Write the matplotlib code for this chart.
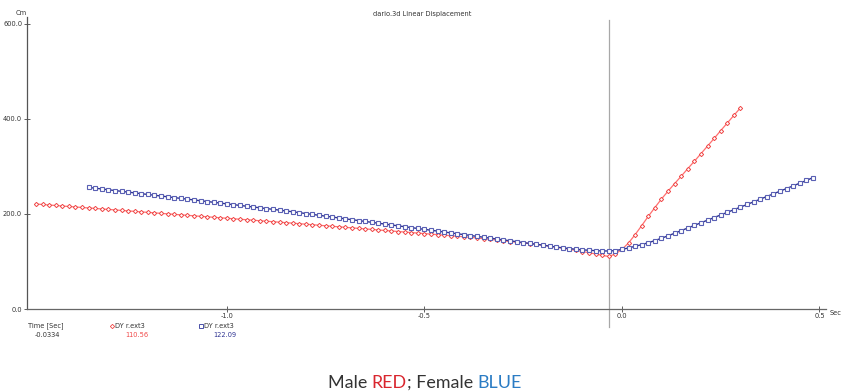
import numpy as np
import matplotlib.pyplot as plt

# capture settings: 60 Hz samples, cursor placed at -0.0334 s
fps = 60.0
t_cursor = -0.0334

# male (red), DY r.ext3 in cm, frames -87 .. +20 around the cursor
male_first_frame = -87
male_dy = [
    221.0, 220.0, 218.9, 217.9, 216.8, 215.8, 214.8, 213.7, 212.7, 211.7,
    210.6, 209.6, 208.6, 207.5, 206.5, 205.5, 204.4, 203.4, 202.4, 201.3,
    200.3, 199.3, 198.2, 197.2, 196.2, 195.1, 194.1, 193.1, 192.0, 191.0,
    190.0, 188.9, 187.9, 186.9, 185.8, 184.8, 183.8, 182.7, 181.7, 180.7,
    179.6, 178.5, 177.4, 176.3, 175.2, 174.1, 173.0, 171.9, 170.8, 169.7,
    168.6, 167.5, 166.4, 165.3, 164.2, 163.1, 162.0, 160.9, 159.8, 158.7,
    157.6, 156.5, 155.4, 154.3, 153.2, 152.1, 151.0,
    149.5, 148.0, 146.5, 145.0, 143.5, 142.0, 140.5, 139.0, 137.5, 136.0, 134.5,
    132.3, 130.1, 127.9, 125.6, 123.3, 121.0,
    118.6, 115.8, 113.0, 110.56,
    115.8, 125.5, 139.0, 156.5, 175.5, 195.0, 213.5, 231.5, 248.0, 264.0,
    279.5, 295.5, 311.0, 327.0, 343.0, 359.0, 375.5, 391.5, 407.5, 423.5,
]

# female (blue), frames -79 .. +31 around the cursor
female_first_frame = -79
female_dy = [
    256.0, 254.3, 252.7, 251.0, 249.4, 247.7, 246.1, 244.4, 242.8, 241.1,
    239.5, 237.8, 236.2, 234.5, 232.9, 231.2, 229.6, 227.9, 226.3, 224.6,
    223.0, 221.3, 219.7, 218.0, 216.4, 214.7, 213.1, 211.4, 209.8, 208.1,
    206.4,
    204.6, 202.8, 201.0, 199.1, 197.3, 195.4, 193.6, 191.7, 189.9, 188.0,
    186.2, 184.3, 182.5, 180.6, 178.8, 176.9, 175.1, 173.2, 171.4, 169.5,
    167.7, 165.8, 164.0, 162.1, 160.3, 158.4, 156.6, 154.7, 152.9, 151.0,
    149.2, 147.3, 145.5, 143.6, 141.8, 139.9, 138.1, 136.2,
    134.4, 132.4, 130.5, 128.8, 127.2, 125.8, 124.6, 123.6, 122.8, 122.3, 122.09,
    123.0, 125.5, 128.5, 132.0, 135.5, 139.5, 144.0, 149.0, 154.0, 159.5,
    165.0, 170.5, 176.0, 181.5, 187.0, 192.5, 198.0, 203.5, 209.0, 214.5,
    220.0, 225.6, 231.2, 236.8, 242.4, 248.0, 253.6, 259.2, 264.8, 270.6, 276.5,
]

y_ticks = [0, 200, 400, 600]
x_ticks = [-1.0, -0.5, 0.0, 0.5]
male_cursor_value = 110.56
female_cursor_value = 122.09

t_male = t_cursor + (male_first_frame + np.arange(len(male_dy))) / fps
t_female = t_cursor + (female_first_frame + np.arange(len(female_dy))) / fps

red = '#f04848'
navy = '#2e3392'
txt = '#333333'

fig = plt.figure(figsize=(8.41, 3.92), dpi=100)
ax = fig.add_axes([27 / 841, 83 / 392, 799 / 841, 292 / 392])

ax.plot(t_male, male_dy, '-', color='#ff6f6f', lw=0.9, marker='D', markersize=2.2,
        mfc='white', mec=red, mew=0.7, zorder=3)
ax.plot(t_female, female_dy, '-', color=navy, lw=1.0, marker='s', markersize=2.5,
        mfc='white', mec='#5a60b4', mew=0.8, zorder=4)

# time cursor, drawn past the bottom axis
ax.axvline(t_cursor, ymin=-0.06, ymax=0.99, color='#a8a8a8', lw=0.9, clip_on=False, zorder=2)

ax.set_xlim(-1.506, 0.5165)
ax.set_ylim(0, 614.7)
ax.set_xticks(x_ticks)
ax.set_xticklabels([f'{v:.1f}' for v in x_ticks])
ax.set_yticks(y_ticks)
ax.set_yticklabels([f'{v:.1f}' for v in y_ticks])
ax.tick_params(direction='inout', length=5, width=0.6, labelsize=4.8, labelcolor=txt,
               pad=1, colors='#444444')
ax.tick_params(axis='x', pad=0.5)

for side in ['top', 'right']:
    ax.spines[side].set_visible(False)
ax.spines['left'].set_color('#555555')
ax.spines['bottom'].set_color('#666666')
ax.spines['left'].set_linewidth(0.9)
ax.spines['bottom'].set_linewidth(0.9)

# axis units, title and readout block
fig.text(16 / 841, 1 - 13 / 392, 'Cm', fontsize=4.8, color=txt, ha='left', va='center')
fig.text(830 / 841, 1 - 313 / 392, 'Sec', fontsize=4.8, color=txt, ha='left', va='center')
fig.text(422 / 841, 1 - 14 / 392, 'dario.3d Linear Displacement', fontsize=4.8,
         color=txt, ha='center', va='center')

fig.text(28 / 841, 1 - 326 / 392, 'Time [Sec]', fontsize=4.8, color=txt, va='center')
fig.text(60 / 841, 1 - 335 / 392, f'{t_cursor:.4f}', fontsize=4.8, color=txt,
         ha='right', va='center')
fig.text(115 / 841, 1 - 326 / 392, 'DY r.ext3', fontsize=4.8, color=txt, va='center')
fig.text(148 / 841, 1 - 335 / 392, f'{male_cursor_value:.2f}', fontsize=4.8, color=red,
         ha='right', va='center')
fig.text(204 / 841, 1 - 326 / 392, 'DY r.ext3', fontsize=4.8, color=txt, va='center')
fig.text(236 / 841, 1 - 335 / 392, f'{female_cursor_value:.2f}', fontsize=4.8, color=navy,
         ha='right', va='center')
fig.lines.append(plt.Line2D([111.5 / 841], [1 - 326 / 392], transform=fig.transFigure,
                            marker='D', markersize=2.2, mfc='white', mec=red, mew=0.6))
fig.lines.append(plt.Line2D([200.5 / 841], [1 - 326 / 392], transform=fig.transFigure,
                            marker='s', markersize=2.6, mfc='white', mec='#4a50a8', mew=0.7))

# caption
cap_y = 1 - 383 / 392
cap = dict(fontsize=12.9, family='Lato', va='center')
parts = [('Male ', '#333333'), ('RED', '#d9262e'), ('; Female ', '#333333'), ('BLUE', '#2b7cc4')]
r = fig.canvas.get_renderer()
widths = []
for s, c in parts:
    t = fig.text(0, cap_y, s, **cap)
    widths.append(t.get_window_extent(r).width)
    t.remove()
x = 425 - sum(widths) / 2
for (s, c), w in zip(parts, widths):
    fig.text(x / 841, cap_y, s, color=c, **cap)
    x += w

fig.savefig('out.png', dpi=100)
